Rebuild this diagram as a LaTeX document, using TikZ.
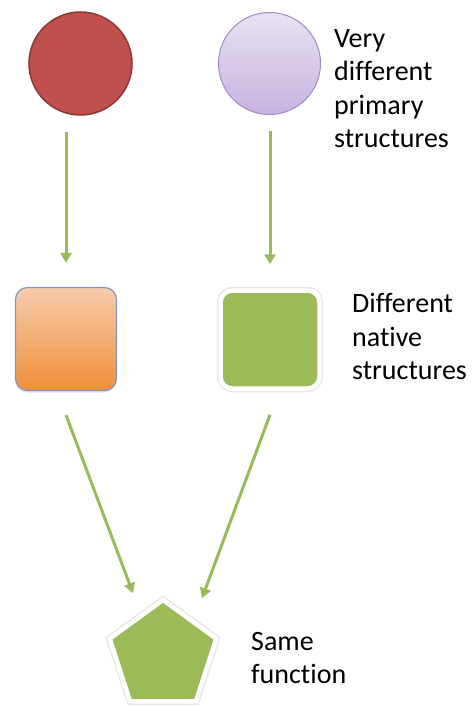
\documentclass[tikz,border=0pt]{standalone}
\usepackage{fontspec}
\setmainfont{Carlito}[Ligatures=NoCommon]
\usetikzlibrary{arrows.meta,shapes.geometric,shadows}
\definecolor{arrowgreen}{HTML}{9BBB59}
\definecolor{redfill}{HTML}{C0504D}
\definecolor{redline}{HTML}{8C3836}
\definecolor{lavtop}{HTML}{E8E2F2}
\definecolor{lavbot}{HTML}{C6B3E0}
\definecolor{lavline}{HTML}{A08BC8}
\definecolor{orangetop}{HTML}{F6CBAD}
\definecolor{orangebot}{HTML}{EF9038}
\definecolor{orangeline}{HTML}{7D97BF}
\tikzset{
  arr/.style={draw=arrowgreen, line width=3pt, -{Triangle[width=11pt,length=10pt]}},
  lbl/.style={anchor=north west, inner sep=0pt, align=left, font=\fontsize{28}{33.6}\selectfont},
  softshadow/.style={drop shadow={shadow xshift=0pt, shadow yshift=-2pt, fill=black, opacity=0.12}},
  whiteframe/.style={fill=arrowgreen, draw=white, line width=4.5pt,
    preaction={draw=black!9, line width=7.5pt}}
}
\begin{document}
\begin{tikzpicture}[x=1pt,y=-1pt]
\useasboundingbox (0,0) rectangle (471,706);
% circles
\node[circle, minimum size=103pt, inner sep=0pt, fill=redfill, draw=redline, line width=1.5pt] (c1) at (80.5,63.5) {};
\node[circle, minimum size=102pt, inner sep=0pt, top color=lavtop, bottom color=lavbot, draw=lavline, line width=1pt] (c2) at (269.5,63.5) {};
% squares
\node[rectangle, rounded corners=12pt, minimum width=101pt, minimum height=103pt, inner sep=0pt, top color=orangetop, bottom color=orangebot, draw=orangeline, line width=1.2pt, softshadow] (s1) at (66,339) {};
\node[rectangle, rounded corners=12pt, minimum width=99pt, minimum height=98pt, inner sep=0pt, whiteframe, softshadow] (s2) at (270,339.5) {};
% pentagon
\node[regular polygon, regular polygon sides=5, minimum size=112pt, inner sep=0pt, whiteframe, softshadow] (p) at (163,656) {};
% arrows
\draw[arr, shorten <=16pt, shorten >=24pt] (s1.north |- c1.south) -- (s1.north);
\draw[arr, shorten <=16pt, shorten >=24pt] (s2.north |- c2.south) -- (s2.north);
\draw[arr] ([yshift=-24pt]s1.south) -- ([xshift=-30pt,yshift=4pt]p.north);
\draw[arr] ([yshift=-24pt]s2.south) -- ([xshift=39pt,yshift=-1pt]p.north);
% labels
\node[lbl] (t1) at (334,29) {Very\\different\\primary\\structures};
\node[lbl] (t2) at (352,293) {Different\\native\\structures};
\node[lbl] (t3) at (251,632) {Same\\function};
\end{tikzpicture}
\end{document}
